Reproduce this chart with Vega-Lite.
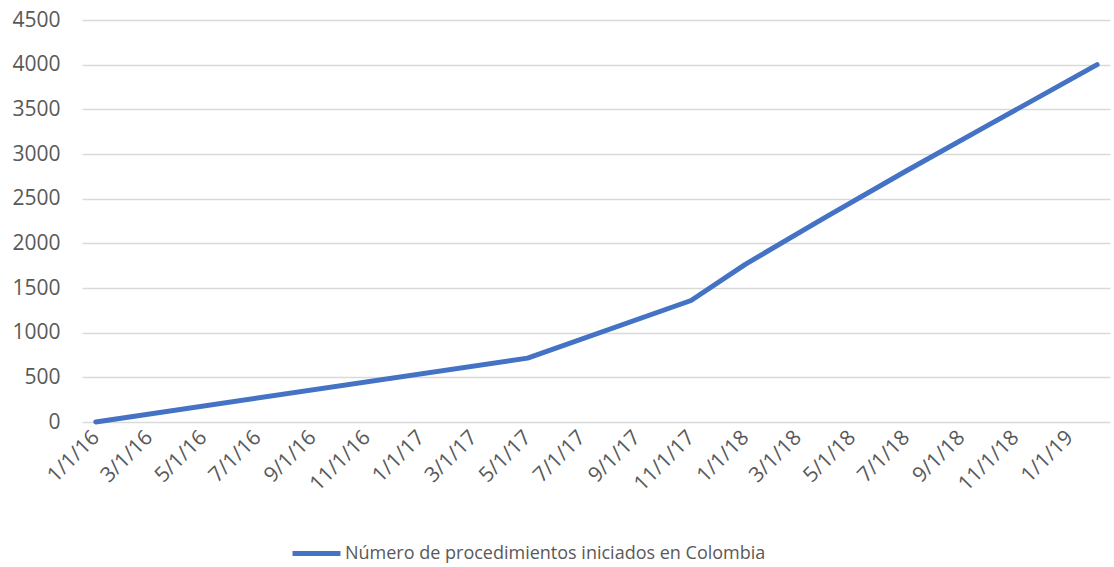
{
  "$schema": "https://vega.github.io/schema/vega-lite/v6.json",
  "width": 1028,
  "height": 402,
  "autosize": {"type": "none"},
  "padding": {"left": 82, "top": 20, "right": 4, "bottom": 145},
  "background": "white",
  "config": {
    "font": "Open Sans",
    "view": {"stroke": null}
  },
  "data": {
    "values": [
      {"fecha": "2016-01-01", "valor": 0, "serie": "Número de procedimientos iniciados en Colombia"},
      {"fecha": "2017-05-01", "valor": 715, "serie": "Número de procedimientos iniciados en Colombia"},
      {"fecha": "2017-11-01", "valor": 1360, "serie": "Número de procedimientos iniciados en Colombia"},
      {"fecha": "2018-01-01", "valor": 1765, "serie": "Número de procedimientos iniciados en Colombia"},
      {"fecha": "2018-04-01", "valor": 2290, "serie": "Número de procedimientos iniciados en Colombia"},
      {"fecha": "2018-07-01", "valor": 2810, "serie": "Número de procedimientos iniciados en Colombia"},
      {"fecha": "2018-10-01", "valor": 3320, "serie": "Número de procedimientos iniciados en Colombia"},
      {"fecha": "2019-02-01", "valor": 4000, "serie": "Número de procedimientos iniciados en Colombia"}
    ]
  },
  "mark": {"type": "line", "strokeWidth": 5, "strokeCap": "round", "strokeJoin": "round"},
  "encoding": {
    "x": {
      "field": "fecha",
      "type": "temporal",
      "scale": {
        "type": "utc",
        "domain": [
          {"year": 2015, "month": 12, "date": 16, "hours": 12, "utc": true},
          {"year": 2019, "month": 2, "date": 15, "hours": 12, "utc": true}
        ]
      },
      "axis": {
        "title": null,
        "labelExpr": "utcFormat(datum.value, '%-m/%-d/%y')",
        "values": [
          {"year": 2016, "month": 1, "date": 1, "utc": true},
          {"year": 2016, "month": 3, "date": 1, "utc": true},
          {"year": 2016, "month": 5, "date": 1, "utc": true},
          {"year": 2016, "month": 7, "date": 1, "utc": true},
          {"year": 2016, "month": 9, "date": 1, "utc": true},
          {"year": 2016, "month": 11, "date": 1, "utc": true},
          {"year": 2017, "month": 1, "date": 1, "utc": true},
          {"year": 2017, "month": 3, "date": 1, "utc": true},
          {"year": 2017, "month": 5, "date": 1, "utc": true},
          {"year": 2017, "month": 7, "date": 1, "utc": true},
          {"year": 2017, "month": 9, "date": 1, "utc": true},
          {"year": 2017, "month": 11, "date": 1, "utc": true},
          {"year": 2018, "month": 1, "date": 1, "utc": true},
          {"year": 2018, "month": 3, "date": 1, "utc": true},
          {"year": 2018, "month": 5, "date": 1, "utc": true},
          {"year": 2018, "month": 7, "date": 1, "utc": true},
          {"year": 2018, "month": 9, "date": 1, "utc": true},
          {"year": 2018, "month": 11, "date": 1, "utc": true},
          {"year": 2019, "month": 1, "date": 1, "utc": true}
        ],
        "labelAngle": -45,
        "labelAlign": "right",
        "labelBaseline": "middle",
        "labelFontSize": 21,
        "labelColor": "#595959",
        "labelPadding": 12,
        "labelOverlap": false,
        "labelFlush": false,
        "domain": false,
        "ticks": false,
        "grid": false
      }
    },
    "y": {
      "field": "valor",
      "type": "quantitative",
      "scale": {"domain": [0, 4500], "nice": false},
      "axis": {
        "title": null,
        "values": [0, 500, 1000, 1500, 2000, 2500, 3000, 3500, 4000, 4500],
        "format": "d",
        "labelFontSize": 21,
        "labelColor": "#595959",
        "labelPadding": 22,
        "domain": false,
        "ticks": false,
        "grid": true,
        "gridColor": "#d9d9d9",
        "gridWidth": 1.5
      }
    },
    "color": {
      "field": "serie",
      "type": "nominal",
      "scale": {"range": ["#4472C4"]},
      "legend": {
        "title": null,
        "orient": "none",
        "legendX": 208,
        "legendY": 507,
        "direction": "horizontal",
        "symbolType": "stroke",
        "symbolSize": 2300,
        "symbolStrokeWidth": 5,
        "labelFontSize": 18,
        "labelColor": "#595959",
        "labelLimit": 800,
        "labelOffset": 2
      }
    }
  }
}
